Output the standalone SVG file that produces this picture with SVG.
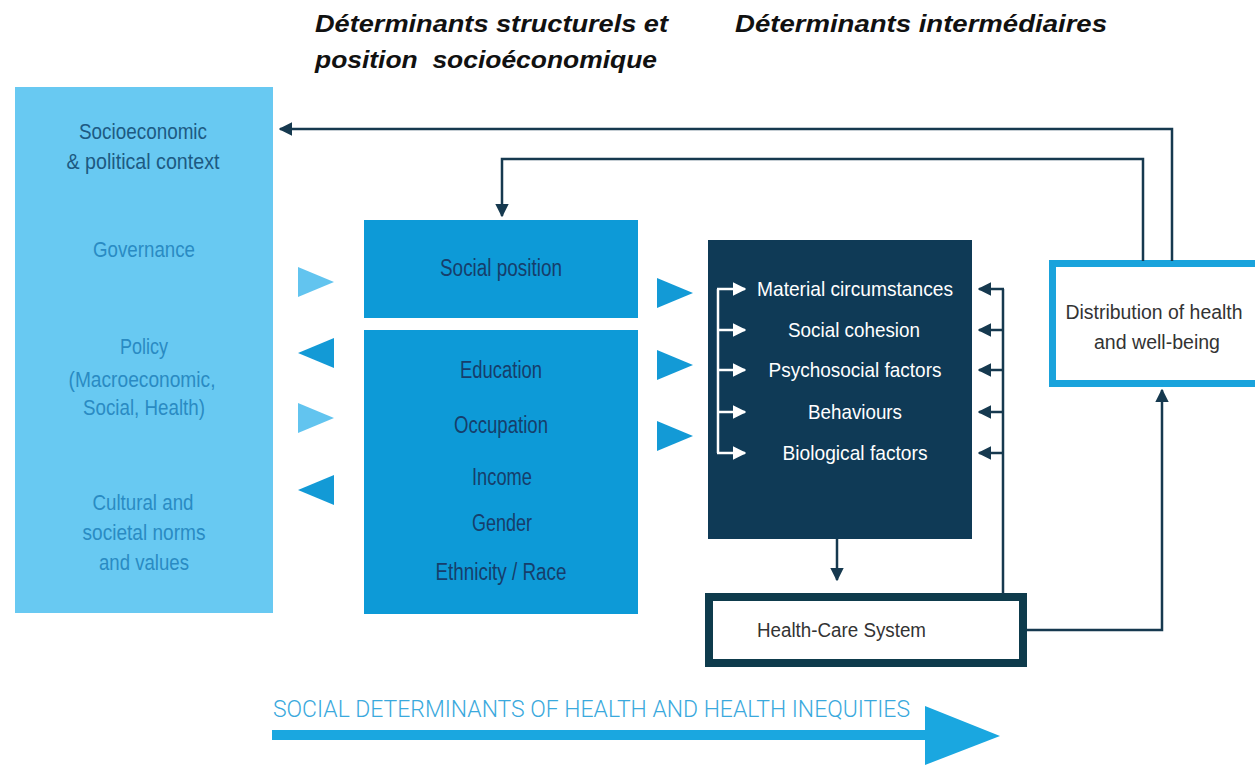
<svg xmlns="http://www.w3.org/2000/svg" width="1255" height="770" viewBox="0 0 1255 770">
  <style>
    .hdr { font-family: "Liberation Sans", Arial, sans-serif; font-weight: bold; font-style: italic; font-size: 23px; fill: #111111; }
    .lbl { font-family: "Liberation Sans Narrow", "Liberation Sans", Arial, sans-serif; text-anchor: middle; }
    .ctx1 { fill: #1d5a82; font-size: 22px; }
    .ctx2 { fill: #2a8bc3; font-size: 22px; }
    .pos { fill: #163e6b; font-size: 23px; }
    .mid { fill: #ffffff; font-size: 21px; }
    .gray { fill: #333333; font-size: 20px; }
    .band { fill: #3aa9dd; font-size: 24px; font-weight: 300; font-family: Roboto, "Liberation Sans Narrow", "Liberation Sans", Arial, sans-serif; }
    .dk { fill: none; stroke: #16394f; stroke-width: 2.5; }
    .wt { fill: none; stroke: #ffffff; stroke-width: 2.5; }
  </style>
  <defs>
    <marker id="ahDark" viewBox="0 0 10 10" refX="9" refY="5" markerWidth="5.5" markerHeight="5.5" orient="auto" markerUnits="strokeWidth">
      <path d="M0,0 L10,5 L0,10 z" fill="#16394f"/>
    </marker>
    <marker id="ahWhite" viewBox="0 0 10 10" refX="9" refY="5" markerWidth="5.5" markerHeight="5.5" orient="auto" markerUnits="strokeWidth">
      <path d="M0,0 L10,5 L0,10 z" fill="#ffffff"/>
    </marker>
  </defs>

  <rect width="1255" height="770" fill="#ffffff"/>

  <!-- column headings -->
  <g id="headings">
    <text class="hdr" x="315" y="32" textLength="353" lengthAdjust="spacingAndGlyphs">Déterminants structurels et</text>
    <text class="hdr" x="315" y="68" textLength="342" lengthAdjust="spacingAndGlyphs" xml:space="preserve">position  socioéconomique</text>
    <text class="hdr" x="735" y="32" textLength="372" lengthAdjust="spacingAndGlyphs">Déterminants intermédiaires</text>
  </g>

  <!-- context column -->
  <g id="context">
    <rect x="15" y="87" width="258" height="526" fill="#68c9f2"/>
    <text class="lbl ctx1" x="143" y="139" textLength="128" lengthAdjust="spacingAndGlyphs">Socioeconomic</text>
    <text class="lbl ctx1" x="143" y="169" textLength="153" lengthAdjust="spacingAndGlyphs">&amp; political context</text>
    <text class="lbl ctx2" x="144" y="257" textLength="102" lengthAdjust="spacingAndGlyphs">Governance</text>
    <text class="lbl ctx2" x="144" y="354" textLength="48" lengthAdjust="spacingAndGlyphs">Policy</text>
    <text class="lbl ctx2" x="142" y="387" textLength="147" lengthAdjust="spacingAndGlyphs">(Macroeconomic,</text>
    <text class="lbl ctx2" x="144" y="415" textLength="122" lengthAdjust="spacingAndGlyphs">Social, Health)</text>
    <text class="lbl ctx2" x="143" y="510" textLength="101" lengthAdjust="spacingAndGlyphs">Cultural and</text>
    <text class="lbl ctx2" x="144" y="540" textLength="123" lengthAdjust="spacingAndGlyphs">societal norms</text>
    <text class="lbl ctx2" x="144" y="570" textLength="90" lengthAdjust="spacingAndGlyphs">and values</text>
  </g>

  <!-- exchange triangles between context and position -->
  <g id="exchange">
    <polygon points="298,267 334,282 298,297" fill="#62c4ef"/>
    <polygon points="334,338 298,353 334,368" fill="#139ad6"/>
    <polygon points="298,403 334,418 298,433" fill="#62c4ef"/>
    <polygon points="334,475 298,490 334,505" fill="#139ad6"/>
  </g>

  <!-- socioeconomic position -->
  <g id="social-position">
    <rect x="364" y="220" width="274" height="98" fill="#0d9ad7"/>
    <text class="lbl pos" x="501" y="276" textLength="122" lengthAdjust="spacingAndGlyphs">Social position</text>
  </g>
  <g id="stratifiers">
    <rect x="364" y="330" width="274" height="284" fill="#0d9ad7"/>
    <text class="lbl pos" x="501" y="378" textLength="82" lengthAdjust="spacingAndGlyphs">Education</text>
    <text class="lbl pos" x="501" y="433" textLength="94" lengthAdjust="spacingAndGlyphs">Occupation</text>
    <text class="lbl pos" x="502" y="485" textLength="60" lengthAdjust="spacingAndGlyphs">Income</text>
    <text class="lbl pos" x="502" y="531" textLength="60" lengthAdjust="spacingAndGlyphs">Gender</text>
    <text class="lbl pos" x="501" y="580" textLength="131" lengthAdjust="spacingAndGlyphs">Ethnicity / Race</text>
  </g>

  <!-- triangles into intermediary determinants -->
  <g id="feed">
    <polygon points="657,278 693,293 657,308" fill="#139ad6"/>
    <polygon points="657,350 693,365 657,380" fill="#139ad6"/>
    <polygon points="657,421 693,436 657,451" fill="#139ad6"/>
  </g>

  <!-- intermediary determinants -->
  <g id="intermediary">
    <rect x="708" y="240" width="264" height="299" fill="#0f3a56"/>
    <text class="lbl mid" x="855" y="296" textLength="196" lengthAdjust="spacingAndGlyphs">Material circumstances</text>
    <text class="lbl mid" x="854" y="337" textLength="132" lengthAdjust="spacingAndGlyphs">Social cohesion</text>
    <text class="lbl mid" x="855" y="377" textLength="173" lengthAdjust="spacingAndGlyphs">Psychosocial factors</text>
    <text class="lbl mid" x="855" y="419" textLength="94" lengthAdjust="spacingAndGlyphs">Behaviours</text>
    <text class="lbl mid" x="855" y="460" textLength="145" lengthAdjust="spacingAndGlyphs">Biological factors</text>
    <!-- internal white bracket -->
    <path class="wt" d="M718,289 V453"/>
    <path class="wt" d="M717,289 H745" marker-end="url(#ahWhite)"/>
    <path class="wt" d="M718,330 H745" marker-end="url(#ahWhite)"/>
    <path class="wt" d="M718,370 H745" marker-end="url(#ahWhite)"/>
    <path class="wt" d="M718,412 H745" marker-end="url(#ahWhite)"/>
    <path class="wt" d="M717,453 H745" marker-end="url(#ahWhite)"/>
  </g>

  <!-- health-care system -->
  <g id="health-care">
    <rect x="709" y="597" width="314" height="66" fill="#ffffff" stroke="#0e3b4c" stroke-width="8"/>
    <text class="gray" x="757" y="637" textLength="169" lengthAdjust="spacingAndGlyphs" font-family="Liberation Sans Narrow, Liberation Sans, Arial, sans-serif">Health-Care System</text>
  </g>

  <!-- outcome -->
  <g id="distribution">
    <rect x="1052.5" y="263.5" width="212" height="120" fill="#ffffff" stroke="#1aa3dc" stroke-width="7"/>
    <text class="lbl gray" x="1154" y="319" textLength="177" lengthAdjust="spacingAndGlyphs">Distribution of health</text>
    <text class="lbl gray" x="1157" y="349" textLength="126" lengthAdjust="spacingAndGlyphs">and well-being</text>
  </g>

  <!-- connectors -->
  <g id="connectors">
    <path class="dk" d="M1172,261 V129 H280" marker-end="url(#ahDark)"/>
    <path class="dk" d="M1143,261 V159 H502 V216" marker-end="url(#ahDark)"/>
    <path class="dk" d="M1003,594 V289"/>
    <path class="dk" d="M1004,289 H979" marker-end="url(#ahDark)"/>
    <path class="dk" d="M1003,330 H979" marker-end="url(#ahDark)"/>
    <path class="dk" d="M1003,370 H979" marker-end="url(#ahDark)"/>
    <path class="dk" d="M1003,412 H979" marker-end="url(#ahDark)"/>
    <path class="dk" d="M1003,453 H979" marker-end="url(#ahDark)"/>
    <path class="dk" d="M837,539 V580" marker-end="url(#ahDark)"/>
    <path class="dk" d="M1027,630 H1162 V390" marker-end="url(#ahDark)"/>
  </g>

  <!-- bottom banner arrow -->
  <g id="banner">
    <text class="band" x="273" y="717" textLength="637" lengthAdjust="spacingAndGlyphs">SOCIAL DETERMINANTS OF HEALTH AND HEALTH INEQUITIES</text>
    <rect x="272" y="730" width="660" height="10" fill="#1aa7e0"/>
    <polygon points="925,706 1000,736 925,765" fill="#1aa7e0"/>
  </g>
</svg>
